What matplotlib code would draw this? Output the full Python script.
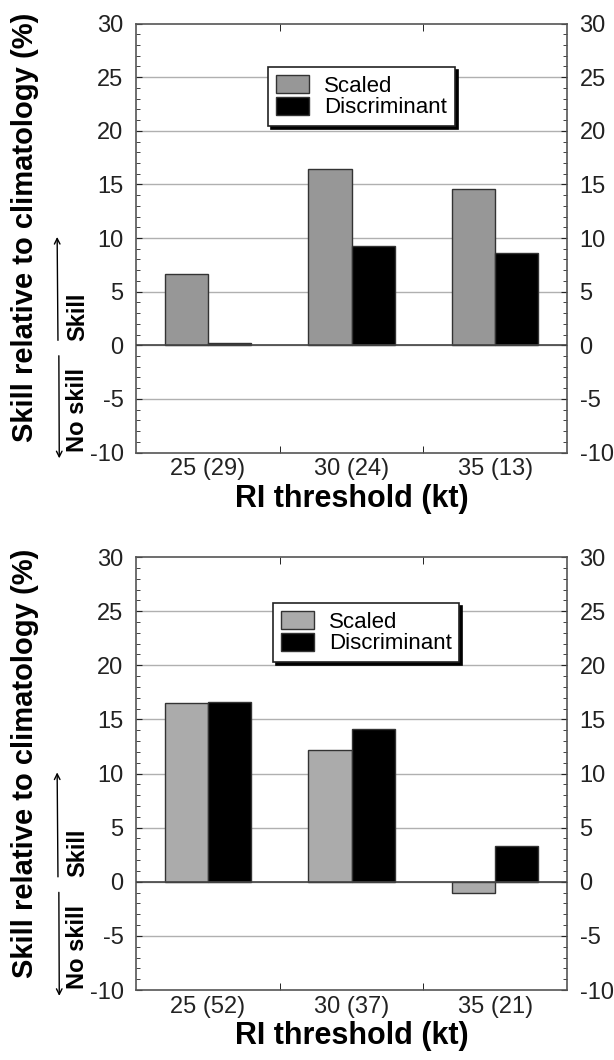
import numpy as np
import matplotlib
matplotlib.use("Agg")
import matplotlib.pyplot as plt
from matplotlib.patches import Rectangle
from matplotlib.legend_handler import HandlerPatch

plt.rcParams['font.family'] = ['Liberation Sans', 'DejaVu Sans']
plt.rcParams['axes.unicode_minus'] = False

# data
series = ['Scaled', 'Discriminant']
labels_top = ['25 (29)', '30 (24)', '35 (13)']
scaled_top = [6.6, 16.4, 14.6]
discrim_top = [0.25, 9.3, 8.6]

labels_bot = ['25 (52)', '30 (37)', '35 (21)']
scaled_bot = [16.5, 12.2, -1.0]
discrim_bot = [16.6, 14.1, 3.3]

yticks = [-10, -5, 0, 5, 10, 15, 20, 25, 30]


def square_handle(legend, orig_handle, xdescent, ydescent, width, height, fontsize):
    # small square pushed to the right end of the handle box
    s = 14.4
    return Rectangle((-xdescent + width - s, -ydescent + (height - s) / 2), s, s)


def panel(ax, labels, s_vals, d_vals, gray, leg_x, leg_y, hgt_px):
    x = np.arange(len(labels))
    w = 0.3
    ax.bar(x - w/2, s_vals, w, color=gray, edgecolor='#333333', linewidth=1.0,
           label=series[0], zorder=3)
    ax.bar(x + w/2, d_vals, w, color='black', edgecolor='#333333', linewidth=1.0,
           label=series[1], zorder=3)
    ax.set_xlim(-0.5, 2.5)
    ax.set_ylim(-10, 30)
    for v in yticks:
        if v not in (-10, 30):
            ax.axhline(v, color='#b0b0b0', lw=1.0, zorder=1)
    ax.axhline(0, color='#444444', lw=1.2, zorder=4)

    ax.set_yticks(yticks)
    ax.set_yticks(np.arange(-10, 31, 1), minor=True)
    ax.tick_params(axis='y', which='both', direction='in', left=True, right=True,
                   labelright=True, labelsize=17, colors='#222222', pad=9)
    ax.tick_params(axis='y', which='major', length=4)
    ax.tick_params(axis='y', which='minor', length=3)

    ax.set_xticks(x)
    ax.set_xticklabels(labels)
    ax.set_xticks([0.5, 1.5], minor=True)
    ax.tick_params(axis='x', which='major', length=0, labelsize=17, pad=4, colors='#222222')
    ax.tick_params(axis='x', which='minor', direction='in', length=5, top=True, bottom=True)

    for sp in ax.spines.values():
        sp.set_color('#555555')
        sp.set_linewidth(1.2)

    ax.set_xlabel('RI threshold (kt)', fontsize=22, fontweight='bold')
    ax.xaxis.set_label_coords(0.5, -31.0 / hgt_px)
    ax.set_ylabel('Skill relative to climatology (%)', fontsize=21, fontweight='bold')
    ax.yaxis.set_label_coords(-0.225, 0.524)

    ax.text(-0.135, 0.316, 'Skill', transform=ax.transAxes, rotation=90,
            fontsize=17, fontweight='bold', ha='center', va='center')
    ax.text(-0.135, 0.099, 'No skill', transform=ax.transAxes, rotation=90,
            fontsize=17, fontweight='bold', ha='center', va='center')
    ax.annotate('', xy=(-0.183, 0.509), xytext=(-0.181, 0.255), xycoords='axes fraction',
                arrowprops=dict(arrowstyle='->', color='black', lw=1.0), annotation_clip=False)
    ax.annotate('', xy=(-0.178, -0.02), xytext=(-0.179, 0.232), xycoords='axes fraction',
                arrowprops=dict(arrowstyle='->', color='black', lw=1.0), annotation_clip=False)

    leg = ax.legend(loc='upper center', bbox_to_anchor=(leg_x, leg_y), fontsize=16,
                    frameon=True, fancybox=False, edgecolor='#222222', framealpha=1,
                    shadow={'color': 'black', 'alpha': 1.0},
                    handler_map={Rectangle: HandlerPatch(patch_func=square_handle)},
                    handlelength=1.49, handleheight=0.9, borderpad=0.35,
                    labelspacing=0.0, handletextpad=0.68, borderaxespad=0)
    leg.get_frame().set_linewidth(1.2)
    leg.set_zorder(10)


fig = plt.figure(figsize=(6.14, 10.6), dpi=100)
ax1 = fig.add_axes([0.2215, 0.5731, 0.702, 0.4047])
ax2 = fig.add_axes([0.2215, 0.066, 0.702, 0.4085])

panel(ax1, labels_top, scaled_top, discrim_top, '#979797', 0.523, 0.899, 429.0)
panel(ax2, labels_bot, scaled_bot, discrim_bot, '#ababab', 0.534, 0.894, 433.0)

fig.savefig('out.png', dpi=100)
